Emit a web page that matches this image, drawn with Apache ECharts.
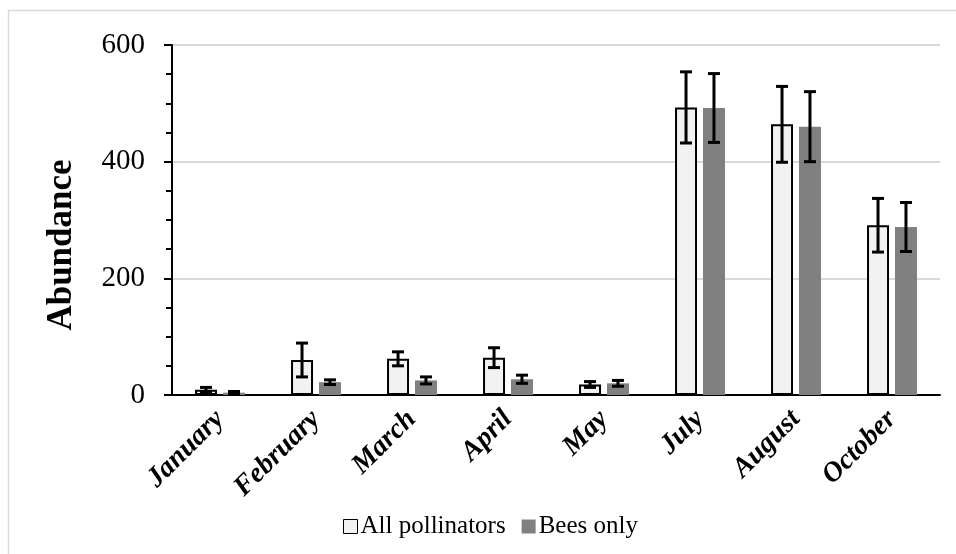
<!DOCTYPE html>
<html>
<head>
<meta charset="utf-8">
<script src="https://cdn.jsdelivr.net/npm/echarts@6/dist/echarts.min.js"></script>
<style>html,body{margin:0;padding:0;background:#fff}#c{width:956px;height:554px}</style>
</head>
<body>
<div id="c"></div>
<script>
var categories = ['January','February','March','April','May','July','August','October'];
var allPollinators = [9, 60, 62, 64, 18, 493, 464, 291];
var allPollinatorsErr = [4, 29, 12, 17, 5, 61, 65, 46];
var beesOnly = [4, 22, 25, 27, 20, 492, 460, 288];
var beesOnlyErr = [2, 4, 6, 7, 5, 59, 60, 42];
var yTicks = [0, 200, 400, 600];
var seriesNames = ['All pollinators', 'Bees only'];

var FONT = '"Liberation Serif", "Times New Roman", serif';
var BAR_W = 22, GAP = 0.27;
var OFFSET = (BAR_W + BAR_W * GAP) / 2;

function errData(vals, errs) {
  return vals.map(function (v, i) { return [i, v - errs[i], v + errs[i]]; });
}
function errRender(dx) {
  return function (params, api) {
    var i = api.value(0);
    var lo = api.coord([i, api.value(1)]);
    var hi = api.coord([i, api.value(2)]);
    var x = lo[0] + dx;
    var cw = 6;
    var st = { stroke: '#000', lineWidth: 3 };
    return {
      type: 'group',
      children: [
        { type: 'line', shape: { x1: x, y1: lo[1], x2: x, y2: hi[1] }, style: st },
        { type: 'line', shape: { x1: x - cw, y1: lo[1], x2: x + cw, y2: lo[1] }, style: st },
        { type: 'line', shape: { x1: x - cw, y1: hi[1], x2: x + cw, y2: hi[1] }, style: st }
      ]
    };
  };
}

var chart = echarts.init(document.getElementById('c'), null, { renderer: 'canvas' });
chart.setOption({
  animation: false,
  backgroundColor: '#fff',
  textStyle: { fontFamily: FONT },
  grid: { left: 172, right: 16, top: 45, bottom: 159, containLabel: false },
  graphic: [
    { type: 'rect', shape: { x: 8.5, y: 10.5, width: 1000, height: 600 }, style: { fill: 'none', stroke: '#d9d9d9', lineWidth: 1.5 }, silent: true, z: -10 },
    { type: 'text', x: 62, y: 245, rotation: Math.PI / 2,
      style: { text: 'Abundance', font: 'bold 35px ' + FONT, fill: '#000', align: 'center', verticalAlign: 'middle' } }
  ],
  legend: {
    left: 338, bottom: 10,
    icon: 'rect',
    itemWidth: 14, itemHeight: 14, itemGap: 16,
    textStyle: { fontFamily: FONT, fontSize: 25, color: '#000', padding: [0, 0, 0, -2] },
    data: [
      { name: seriesNames[0], itemStyle: { color: '#f2f2f2', borderColor: '#000', borderWidth: 1 } },
      { name: seriesNames[1], itemStyle: { color: '#808080', borderWidth: 0 } }
    ]
  },
  xAxis: {
    type: 'category', data: categories,
    axisLine: { lineStyle: { color: '#000', width: 2 } },
    axisTick: { show: false },
    axisLabel: { rotate: 45, margin: 20, color: '#000', fontFamily: FONT, fontWeight: 'bold', fontStyle: 'italic', fontSize: 28 }
  },
  yAxis: {
    type: 'value', min: yTicks[0], max: yTicks[yTicks.length - 1], interval: 200,
    axisLine: { show: true, lineStyle: { color: '#000', width: 2 } },
    axisTick: { show: true, length: 8, lineStyle: { color: '#000', width: 2 } },
    minorTick: { show: true, splitNumber: 4, length: 6, lineStyle: { color: '#000', width: 2 } },
    splitLine: { lineStyle: { color: '#d9d9d9', width: 2 } },
    axisLabel: { margin: 27, color: '#000', fontFamily: FONT, fontSize: 29 }
  },
  series: [
    { name: seriesNames[0], type: 'bar', data: allPollinators, barWidth: BAR_W, barGap: (GAP * 100) + '%',
      itemStyle: { color: '#f2f2f2', borderColor: '#000', borderWidth: 2 } },
    { name: seriesNames[1], type: 'bar', data: beesOnly, barWidth: BAR_W,
      itemStyle: { color: '#808080' } },
    { type: 'custom', name: 'errA', data: errData(allPollinators, allPollinatorsErr), renderItem: errRender(-OFFSET),
      encode: { x: 0, y: [1, 2] }, z: 10 },
    { type: 'custom', name: 'errB', data: errData(beesOnly, beesOnlyErr), renderItem: errRender(OFFSET),
      encode: { x: 0, y: [1, 2] }, z: 10 }
  ]
});
</script>
</body>
</html>
